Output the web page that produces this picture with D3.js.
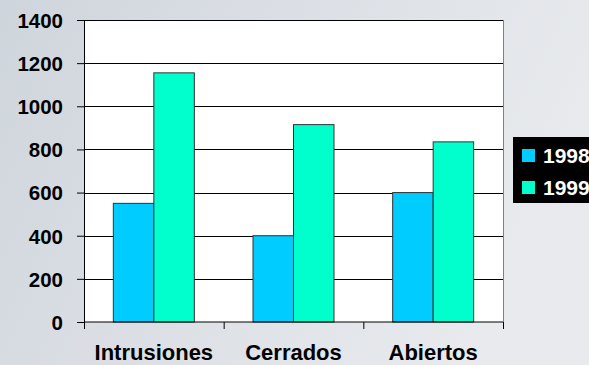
<!DOCTYPE html>
<html>
<head>
<meta charset="utf-8">
<script src="https://cdn.jsdelivr.net/npm/d3@7"></script>
<style>
  body { margin: 0; padding: 0; overflow: hidden; }
  svg { display: block; }
</style>
</head>
<body>
<div id="chart"></div>
<script>
// Data
const categories = ["Intrusiones", "Cerrados", "Abiertos"];
const seriesNames = ["1998", "1999"];
const values1998 = [550, 400, 600];
const values1999 = [1155, 915, 835];
const yTicks = [0, 200, 400, 600, 800, 1000, 1200, 1400];

const colors = ["#00ccff", "#00ffcc"];

const W = 589, H = 365;
const plot = {left: 84, right: 503, top: 20, bottom: 322};
const font = "'Liberation Sans', Arial, sans-serif";

const svg = d3.select("#chart")
    .append("svg")
    .attr("width", W)
    .attr("height", H);

// Background gradient
const defs = svg.append("defs");
const grad = defs.append("linearGradient")
    .attr("id", "bg")
    .attr("x1", "0").attr("y1", "0").attr("x2", "1").attr("y2", "0.3");
grad.append("stop").attr("offset", "0%").attr("stop-color", "#cfd5dc");
grad.append("stop").attr("offset", "45%").attr("stop-color", "#dbdfe5");
grad.append("stop").attr("offset", "100%").attr("stop-color", "#e8eaed");

svg.append("rect")
    .attr("width", W).attr("height", H)
    .attr("fill", "url(#bg)");

// Scales
const x = d3.scaleBand()
    .domain(categories)
    .range([plot.left, plot.right]);

const y = d3.scaleLinear()
    .domain([0, 1400])
    .range([plot.bottom, plot.top]);

const barW = 40.5;
const xSub = d3.scaleBand()
    .domain(seriesNames)
    .range([0, barW * 2]);

// Plot area
svg.append("rect")
    .attr("x", plot.left).attr("y", plot.top)
    .attr("width", plot.right - plot.left)
    .attr("height", plot.bottom - plot.top)
    .attr("fill", "#ffffff");

// Gridlines
svg.append("g")
    .selectAll("line")
    .data(yTicks.filter(d => d > 0))
    .enter().append("line")
    .attr("x1", plot.left).attr("x2", plot.right)
    .attr("y1", d => Math.round(y(d)) + 0.5)
    .attr("y2", d => Math.round(y(d)) + 0.5)
    .attr("stroke", "#000")
    .attr("stroke-width", 1);

// Right border
svg.append("line")
    .attr("x1", plot.right + 0.5).attr("x2", plot.right + 0.5)
    .attr("y1", plot.top).attr("y2", plot.bottom)
    .attr("stroke", "#808080");

// Bars
const groups = svg.append("g")
    .selectAll("g")
    .data(categories)
    .enter().append("g")
    .attr("transform", d => "translate(" + (x(d) + (x.bandwidth() - barW * 2) / 2) + ",0)");

groups.selectAll("rect")
    .data((d, i) => [
        {key: "1998", value: values1998[i]},
        {key: "1999", value: values1999[i]}
    ])
    .enter().append("rect")
    .attr("x", d => xSub(d.key))
    .attr("y", d => y(d.value))
    .attr("width", xSub.bandwidth())
    .attr("height", d => y(0) - y(d.value))
    .attr("fill", (d, i) => colors[i])
    .attr("stroke", "#333")
    .attr("stroke-width", 1);

// Y axis
const yAxis = svg.append("g")
    .attr("transform", "translate(" + plot.left + ",0)")
    .call(d3.axisLeft(y).tickValues(yTicks).tickFormat(d3.format("d"))
        .tickSize(7).tickSizeOuter(0).tickPadding(14));
yAxis.select(".domain").attr("stroke", "#000");
yAxis.selectAll(".tick line").attr("stroke", "#000");
yAxis.selectAll("text")
    .attr("fill", "#000")
    .attr("dy", "0.36em")
    .style("font-family", font)
    .style("font-size", "20.5px")
    .style("font-weight", "bold");

// X axis
const xAxisTicks = [plot.left].concat(categories.map(c => x(c) + x.bandwidth()));
const xAxis = svg.append("g")
    .attr("transform", "translate(0," + plot.bottom + ")");
xAxis.append("line")
    .attr("x1", plot.left).attr("x2", plot.right)
    .attr("stroke", "#000");
xAxis.selectAll(".xt")
    .data(xAxisTicks)
    .enter().append("line")
    .attr("class", "xt")
    .attr("x1", d => d + 0.5).attr("x2", d => d + 0.5)
    .attr("y1", 0).attr("y2", 7)
    .attr("stroke", "#000");
xAxis.selectAll("text")
    .data(categories)
    .enter().append("text")
    .attr("x", d => x(d) + x.bandwidth() / 2)
    .attr("y", 38)
    .attr("text-anchor", "middle")
    .attr("fill", "#000")
    .style("font-family", font)
    .style("font-size", "22px")
    .style("font-weight", "bold")
    .text(d => d);

// Legend
const legend = svg.append("g")
    .attr("transform", "translate(513,137)");
legend.append("rect")
    .attr("width", 90).attr("height", 66)
    .attr("fill", "#000");
const items = legend.selectAll(".item")
    .data(seriesNames)
    .enter().append("g")
    .attr("class", "item")
    .attr("transform", (d, i) => "translate(9," + (12 + i * 32) + ")");
items.append("rect")
    .attr("width", 13).attr("height", 13)
    .attr("fill", (d, i) => colors[i]);
items.append("text")
    .attr("x", 21).attr("y", 14)
    .attr("fill", "#fff")
    .style("font-family", font)
    .style("font-size", "21px")
    .style("font-weight", "bold")
    .text(d => d);
</script>
</body>
</html>
